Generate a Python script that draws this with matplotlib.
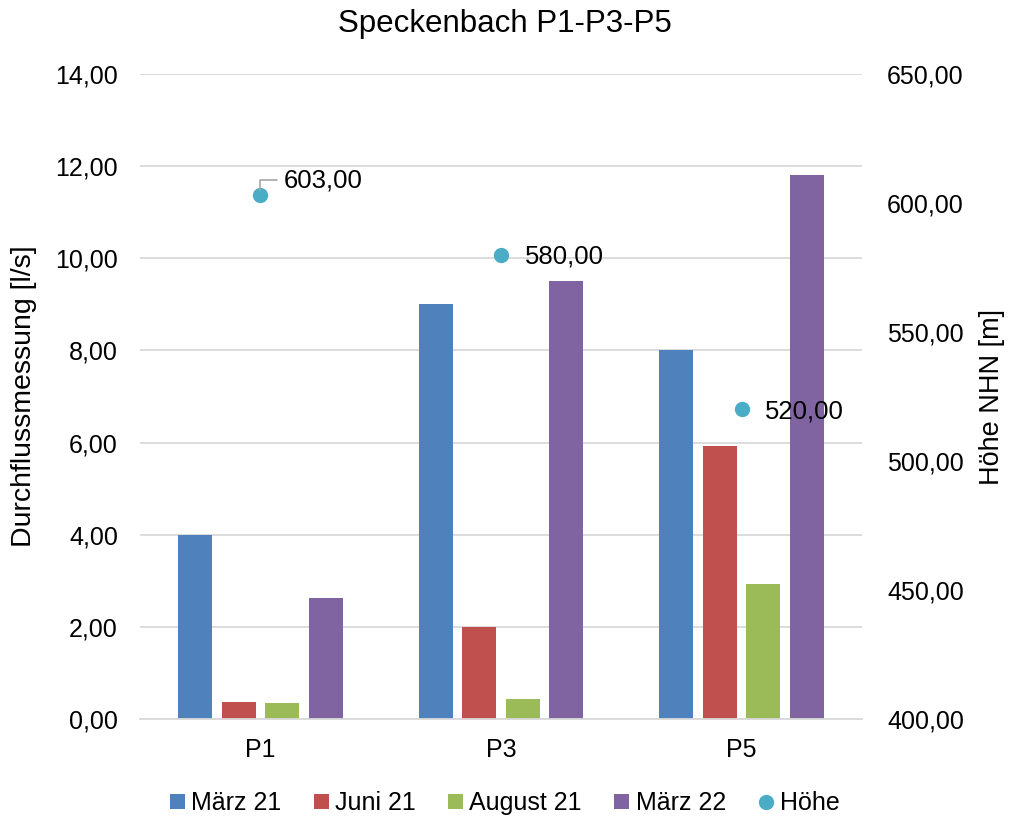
import matplotlib
matplotlib.use("Agg")
import matplotlib.pyplot as plt
import numpy as np
from matplotlib.lines import Line2D
from matplotlib.patches import Patch

plt.rcParams['font.family'] = ['Liberation Sans', 'DejaVu Sans']

categories = ["P1", "P3", "P5"]
series_names = ["März 21", "Juni 21", "August 21", "März 22"]
maerz21 = [4.0, 9.0, 8.0]
juni21 = [0.36, 2.0, 5.92]
august21 = [0.34, 0.44, 2.94]
maerz22 = [2.62, 9.5, 11.8]
hoehe = [603.0, 580.0, 520.0]
y_ticks = [0, 2, 4, 6, 8, 10, 12, 14]
y2_ticks = [400, 450, 500, 550, 600, 650]

colors = ["#4F81BD", "#C0504D", "#9BBB59", "#8064A2"]
dot_color = "#4BACC6"

fig = plt.figure(figsize=(10.09, 8.18), dpi=100)
ax = fig.add_axes([0.1388, 0.121, 0.7155, 0.7885])
ax2 = ax.twinx()

x = np.arange(len(categories))
width = 0.141
step = 0.181
all_series = [maerz21, juni21, august21, maerz22]
for i, (vals, c) in enumerate(zip(all_series, colors)):
    ax.bar(x + (i - 1.5) * step, vals, width, color=c, zorder=2)

ax.set_xlim(-0.5, 2.5)
ax.set_ylim(0, 14)
ax.set_yticks(y_ticks)
ax.set_yticklabels([f"{v:.2f}".replace('.', ',') for v in y_ticks], fontsize=18)
ax.set_xticks(x)
ax.set_xticklabels(categories, fontsize=18)
ax.yaxis.grid(True, color="#d9d9d9", linewidth=1.3, zorder=0)
ax.set_axisbelow(True)
for s in ["top", "left", "right"]:
    ax.spines[s].set_visible(False)
ax.spines["bottom"].set_color("#d9d9d9")
ax.spines["bottom"].set_linewidth(1.3)
ax.tick_params(axis='y', length=0, pad=16)
ax.tick_params(axis='x', length=0, pad=14)
ax.set_ylabel("Durchflussmessung [l/s]", fontsize=20.5)
ax.yaxis.set_label_coords(-0.1427, 0.5)

ax2.plot(x, hoehe, linestyle='none', marker='o', markersize=10, color=dot_color, zorder=5)
ax2.set_ylim(400, 650)
ax2.set_yticks(y2_ticks)
ax2.set_yticklabels([f"{v:.2f}".replace('.', ',') for v in y2_ticks], fontsize=18)
ax2.tick_params(axis='y', length=0, pad=18)
for s in ["top", "left", "right", "bottom"]:
    ax2.spines[s].set_visible(False)
ax2.set_ylabel("Höhe NHN [m]", fontsize=19.5)
ax2.yaxis.set_label_coords(1.162, 0.5)

offsets = [(17, 11), (17, -1.5), (17, -1.5)]
for i, (xi, h) in enumerate(zip(x, hoehe)):
    lbl = f"{h:.2f}".replace('.', ',')
    if i == 0:
        ax2.annotate(lbl, (xi, h), xytext=offsets[i], textcoords='offset points',
                     ha='left', va='center', fontsize=18.5,
                     arrowprops=dict(arrowstyle='-', color='#a6a6a6', lw=1.2,
                                     connectionstyle='angle,angleA=0,angleB=90,rad=0',
                                     shrinkA=3, shrinkB=4),
                     zorder=6)
    else:
        ax2.annotate(lbl, (xi, h), xytext=offsets[i], textcoords='offset points',
                     ha='left', va='center', fontsize=18.5, zorder=6)

fig.text(0.5, 0.971, "Speckenbach P1-P3-P5", ha='center', va='center', fontsize=22.5)

handles = [Patch(facecolor=c, label=n) for c, n in zip(colors, series_names)]
handles.append(Line2D([], [], linestyle='none', marker='o', markersize=10, color=dot_color, label="Höhe"))
fig.legend(handles=handles, loc='center', bbox_to_anchor=(0.5, 0.018), ncol=5, frameon=False,
           fontsize=18, handlelength=0.6, handleheight=0.6, handletextpad=0.25, columnspacing=1.3)

fig.savefig("out.png", dpi=100)
